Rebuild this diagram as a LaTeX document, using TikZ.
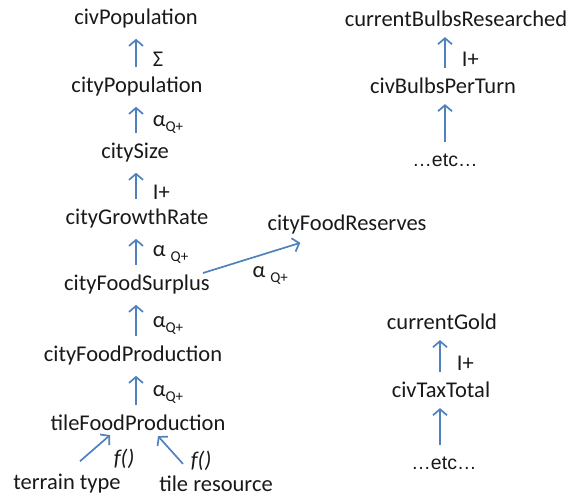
\documentclass[tikz,border=0pt]{standalone}
\usepackage{fontspec}
\setmainfont{Carlito}
\newfontfamily\etcfont{Liberation Sans}
\usetikzlibrary{arrows.meta}

\definecolor{linkblue}{RGB}{79,129,189}
\definecolor{textgray}{RGB}{25,25,25}

\newcommand{\aQ}[1][]{α#1\raisebox{-0.45ex}{\fontsize{15}{15}\selectfont Q+}}

\begin{document}
\begin{tikzpicture}[x=1pt,y=-1pt]

    % Define some common styles
    \tikzset{
        var/.style={text=textgray, font=\fontsize{22.5}{26}\selectfont, inner sep=2pt},
        etc/.style={text=textgray, font=\etcfont\fontsize{19.5}{23}\selectfont},
        link/.style={draw=linkblue, line width=1.7pt, -{Straight Barb[length=6pt,width=14pt]},
                     shorten >=8pt, shorten <=8pt},
        lbl/.style={text=textgray, font=\fontsize{22.5}{26}\selectfont, anchor=west, inner sep=0pt, xshift=16pt}
    }

    \useasboundingbox (0,0) rectangle (579,497);

    % Food chain (left column)
    \node[var] (civPop) at (136,19) {civPopulation};
    \node[var] (cityPop) at (137,87) {cityPopulation};
    \node[var] (citySize) at (135,153) {citySize};
    \node[var] (growth) at (137,219) {cityGrowthRate};
    \node[var] (surplus) at (137,285) {cityFoodSurplus};
    \node[var] (cityProd) at (133,356) {cityFoodProduction};
    \node[var] (tileProd) at (138,423) {tileFoodProduction};
    \node[var] (terrain) at (67,484) {terrain type};
    \node[var] (resource) at (216,484) {tile resource};
    \node[var] (reserves) at (347,225) {cityFoodReserves};

    % Research chain
    \node[var] (bulbs) at (456,19) {currentBulbsResearched};
    \node[var] (bulbsTurn) at (443,86) {civBulbsPerTurn};
    \node[etc] (etcA) at (445,160) {\dots etc\dots};

    % Gold chain
    \node[var] (gold) at (442,322) {currentGold};
    \node[var] (tax) at (441,390) {civTaxTotal};
    \node[etc] (etcB) at (444,463) {\dots etc\dots};

    % Links
    \draw[link] (cityPop.north -| 136,0) -- (civPop.south -| 136,0) node[lbl, pos=0.35] {Σ};
    \draw[link] (citySize.north -| 136,0) -- (cityPop.south -| 136,0) node[lbl, pos=0.4] {\aQ};
    \draw[link] (growth.north -| 136,0) -- (citySize.south -| 136,0) node[lbl, pos=0.35] {I+};
    \draw[link] (surplus.north -| 136,0) -- (growth.south -| 136,0) node[lbl, pos=0.45] {\aQ[\ ]};
    \draw[link] (cityProd.north -| 136,0) -- (surplus.south -| 136,0) node[lbl, pos=0.4] {\aQ};
    \draw[link] (tileProd.north -| 136,0) -- (cityProd.south -| 136,0) node[lbl, pos=0.4] {\aQ};
    \draw[link, shorten <=0pt, shorten >=0pt] ([xshift=13pt,yshift=11pt]terrain.north) -- ([xshift=-28pt,yshift=-2pt]tileProd.south)
        node[lbl, pos=0.3, xshift=8pt, yshift=-5pt] {\itshape f()};
    \draw[link, shorten <=0pt, shorten >=0pt] ([xshift=-33pt,yshift=10pt]resource.north) -- ([xshift=20pt,yshift=-3pt]tileProd.south)
        node[lbl, pos=0.2, xshift=-4pt, yshift=-2pt] {\itshape f()};
    \draw[link, shorten <=0pt, shorten >=0pt] ([xshift=-9pt,yshift=12pt]surplus.east) -- ([xshift=35pt,yshift=-6pt]reserves.south west)
        node[lbl, pos=0.5, xshift=-16pt, yshift=-18pt] {\aQ[\ ]};

    \draw[link] (bulbsTurn.north -| 445,0) -- (bulbs.south -| 445,0) node[lbl, pos=0.35] {I+};
    \draw[link] (etcA.north -| 445,0) -- (bulbsTurn.south -| 445,0);
    \draw[link] (tax.north -| 440,0) -- (gold.south -| 440,0) node[lbl, pos=0.35] {I+};
    \draw[link] (etcB.north -| 440,0) -- (tax.south -| 440,0);

\end{tikzpicture}
\end{document}
